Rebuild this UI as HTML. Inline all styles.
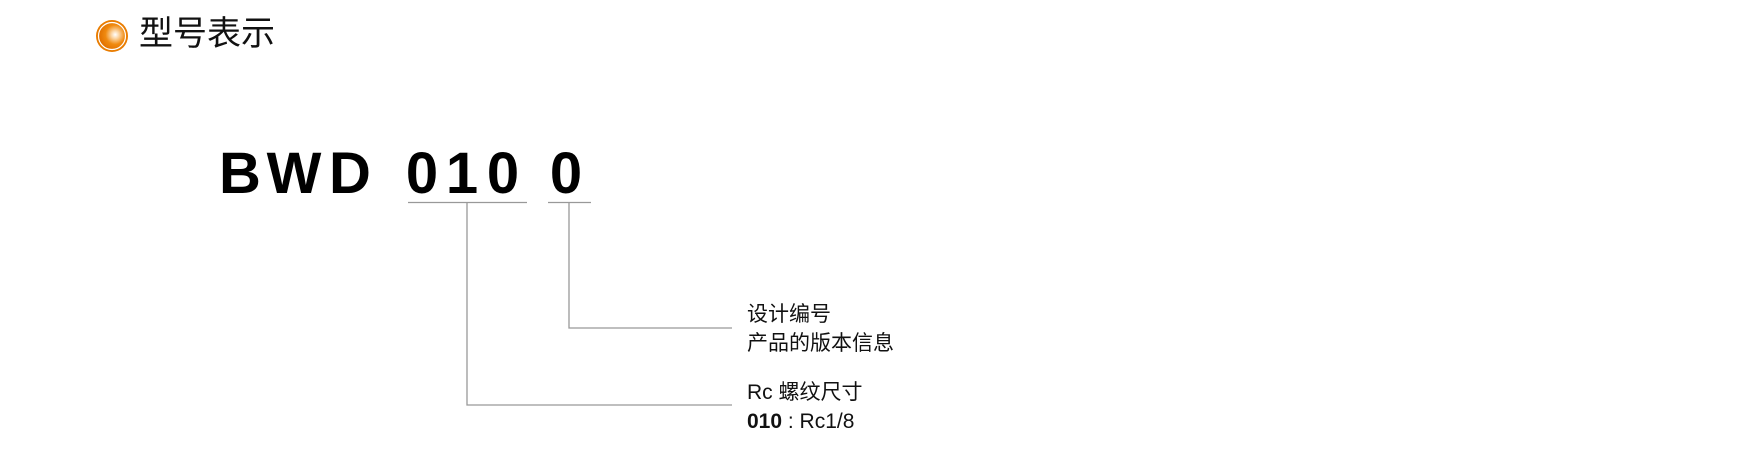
<!DOCTYPE html>
<html><head><meta charset="utf-8"><style>
html,body{margin:0;padding:0;background:#fff;}
body{width:1764px;height:450px;position:relative;overflow:hidden;font-family:"Liberation Sans","Noto Sans CJK SC",sans-serif;}
.t{position:absolute;white-space:nowrap;color:#111;}
</style></head><body>
<svg width="1764" height="450" style="position:absolute;left:0;top:0">
<defs>
<radialGradient id="g" cx="0.62" cy="0.45" r="0.6">
<stop offset="0" stop-color="#fff"/>
<stop offset="0.25" stop-color="#fbd3a0"/>
<stop offset="0.6" stop-color="#f08a10"/>
<stop offset="1" stop-color="#e07000"/>
</radialGradient>
</defs>
<circle cx="112" cy="36" r="16" fill="#e97c00"/>
<circle cx="112" cy="36" r="13.5" fill="url(#g)" stroke="#fff" stroke-width="1.2"/>
<g font-family="Liberation Sans, Arial, sans-serif" font-weight="bold" font-size="58" text-anchor="middle" fill="#000">
<text x="240" y="193">B</text>
<text x="294" y="193">W</text>
<text x="350" y="193">D</text>
<text x="422" y="193">0</text>
<text x="462" y="193">1</text>
<text x="503" y="193">0</text>
<text x="566" y="193">0</text>
</g>
<g stroke="#999" stroke-width="1.3" fill="none">
<line x1="408" y1="202.5" x2="527" y2="202.5"/>
<line x1="548" y1="202.5" x2="591" y2="202.5"/>
<polyline points="467,202.5 467,405 732,405"/>
<polyline points="569,202.5 569,328 732,328"/>
</g>
</svg>
<div class="t" style="left:139px;top:15px;font-size:34px;line-height:38px;">型号表示</div>
<div class="t" style="left:747px;top:300px;font-size:21px;line-height:29px;">设计编号<br>产品的版本信息</div>
<div class="t" style="left:747px;top:378px;font-size:21px;line-height:29px;">Rc 螺纹尺寸<br><b>010</b> : Rc1/8</div>
</body></html>
